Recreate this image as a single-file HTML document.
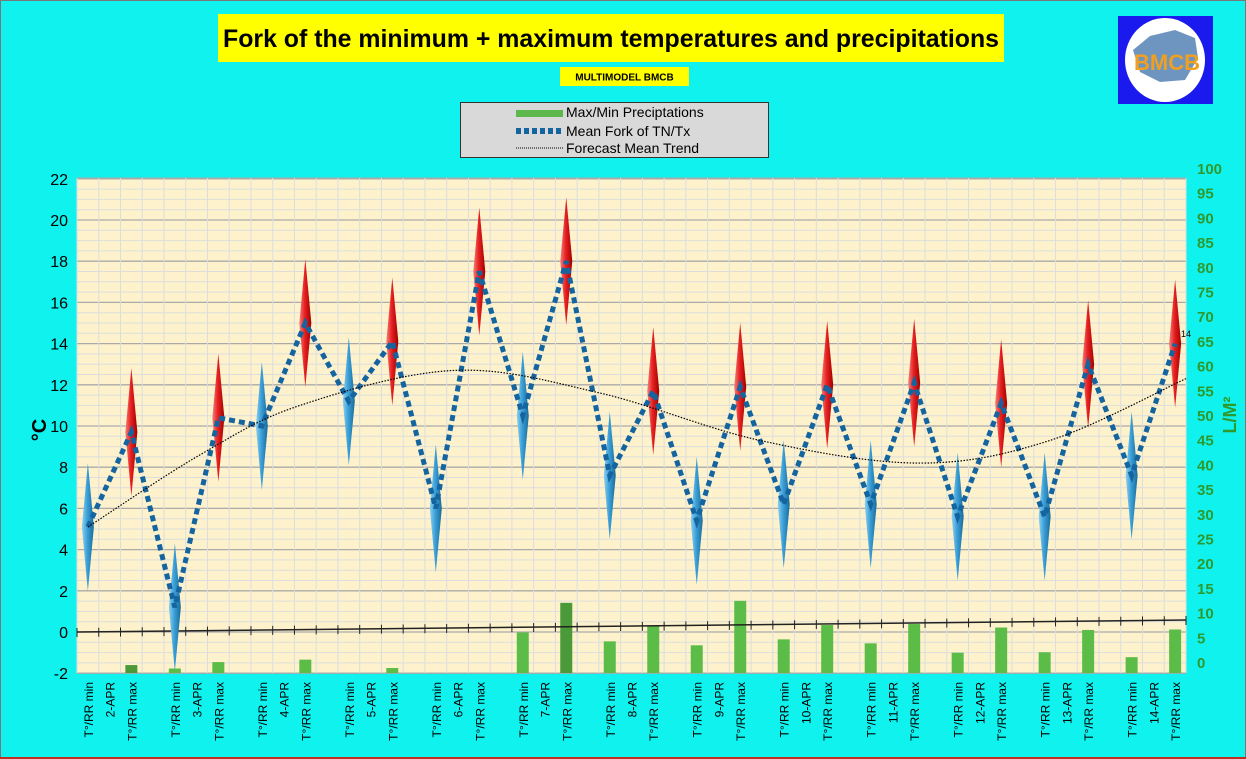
<!DOCTYPE html>
<html><head><meta charset="utf-8"><style>
html,body{margin:0;padding:0;background:#10f2ee;}
body{width:1246px;height:759px;overflow:hidden;position:relative;font-family:"Liberation Sans",sans-serif;}
</style></head><body>
<svg id="s" width="1246" height="759" xmlns="http://www.w3.org/2000/svg" style="position:absolute;left:0;top:0">
<defs>
<linearGradient id="rg" x1="0" x2="1" y1="0" y2="0"><stop offset="0" stop-color="#f08080"/><stop offset="0.45" stop-color="#e82020"/><stop offset="1" stop-color="#a00000"/></linearGradient>
<linearGradient id="bg" x1="0" x2="1" y1="0" y2="0"><stop offset="0" stop-color="#8fd0f0"/><stop offset="0.45" stop-color="#3aa0d8"/><stop offset="1" stop-color="#1a6a9a"/></linearGradient>
</defs>
<rect x="0.5" y="0.5" width="1245" height="758" fill="#10f2ee" stroke="#777" stroke-width="1"/>
<line x1="0" y1="758" x2="1246" y2="758" stroke="#c03020" stroke-width="2"/>
<rect x="218" y="14" width="786" height="48" fill="#ffff00"/>
<text x="611" y="47" text-anchor="middle" font-size="25" font-weight="bold" fill="#000" textLength="776" lengthAdjust="spacingAndGlyphs">Fork of the minimum + maximum temperatures and precipitations</text>
<rect x="560" y="67" width="129" height="19" fill="#ffff00"/>
<text x="624.5" y="80.5" text-anchor="middle" font-size="10" font-weight="bold">MULTIMODEL BMCB</text>
<rect x="460.5" y="102.5" width="308" height="55" fill="#d9d9d9" stroke="#333"/>
<rect x="516" y="110" width="47" height="7" fill="#5cb84a"/>
<text x="566" y="117" font-size="14">Max/Min Preciptations</text>
<line x1="516" y1="131" x2="563" y2="131" stroke="#1464a0" stroke-width="6" stroke-dasharray="5,3"/>
<text x="566" y="136" font-size="14">Mean Fork of TN/Tx</text>
<line x1="516" y1="148" x2="563" y2="148" stroke="#000" stroke-width="1" stroke-dasharray="1,1"/>
<text x="566" y="153" font-size="14">Forecast Mean Trend</text>
<rect x="1118" y="16" width="95" height="88" fill="#1a1aee"/>
<ellipse cx="1165" cy="60" rx="40" ry="42" fill="#fff"/>
<path d="M1133 50 L1150 36 L1175 30 L1195 38 L1198 58 L1185 80 L1160 82 L1140 72 Z" fill="#4a7ab0" opacity="0.8"/>
<text x="1167" y="70" text-anchor="middle" font-size="22" font-weight="bold" fill="#f0a020">BMCB</text>
<g id="plot"></g>
<text transform="translate(46,430) rotate(-90)" text-anchor="middle" font-size="20" font-weight="bold">°C</text>
<text transform="translate(1236,415) rotate(-90)" text-anchor="middle" font-size="18" font-weight="bold" fill="#2e9a2e">L/M²</text>
</svg>
<script>
var g=document.getElementById('plot'),h='';
var X0=77,X1=1186,YT=178,YB=673,sw=(X1-X0)/51;
function ty(v){return 632-v*20.6;}
function ry(v){return 662-v*4.94;}
h+='<rect x="'+X0+'" y="'+YT+'" width="'+(X1-X0)+'" height="'+(YB-YT)+'" fill="#fdf2cc" stroke="#aaa"/>';
for(var v=-2;v<=22;v+=0.5){var y=ty(v);var maj=(v%2==0);h+='<line x1="'+X0+'" x2="'+X1+'" y1="'+y+'" y2="'+y+'" stroke="'+(maj?'#aaa':'#ddd')+'" stroke-width="'+(maj?1.3:1)+'"/>';}
for(var i=0;i<=51;i++){var x=X0+i*sw;h+='<line x1="'+x+'" x2="'+x+'" y1="'+YT+'" y2="'+YB+'" stroke="#ddd"/>';}
for(var v=-2;v<=22;v+=2){h+='<text x="68" y="'+(ty(v)+6)+'" text-anchor="end" font-size="16">'+v+'</text>';}
for(var v=0;v<=100;v+=5){h+='<text x="1197" y="'+(ry(v)+6)+'" font-size="15" font-weight="bold" fill="#2e9a2e">'+v+'</text>';}
var mins=[5.1,1.2,10,11.2,6,10.5,7.6,5.4,6.2,6.2,5.6,5.6,7.6];
var maxs=[9.7,10.4,15,14.1,17.5,18,11.7,11.9,12,12.1,11.1,13,14];
var rmin=[0,0.3,0,0,0,7.6,5.8,5,6.2,5.4,3.5,3.6,2.6];
var rmax=[1,1.6,2.1,0.4,0,13.6,8.9,14,9.1,9.3,8.6,8.1,8.2];
function cx(d,k){return X0+sw*(d*4+k+0.5);}
for(var d=0;d<13;d++){[[0,rmin[d]],[2,rmax[d]]].forEach(function(p){if(p[1]>0){var x=cx(d,p[0]);var top=ry(p[1])+8;var col=(d==0||d==5&&p[0]==2)?'#4a9a3a':'#5cbc48';h+='<rect x="'+(x-6)+'" y="'+top+'" width="12" height="'+(YB-top)+'" fill="'+col+'"/>';}});}
var za=632,zb=620;
h+='<line x1="'+X0+'" y1="'+za+'" x2="'+X1+'" y2="'+zb+'" stroke="#222" stroke-width="1.5"/>';
for(var i=0;i<=51;i++){var x=X0+i*sw;var y=za+(zb-za)*i/51;h+='<line x1="'+x+'" x2="'+x+'" y1="'+(y-4)+'" y2="'+(y+5)+'" stroke="#222"/>';}
// trend via catmull-rom
var P=[[88,5.1],[200,8.6],[300,11.0],[455,12.7],[600,11.6],[760,9.3],[920,8.2],[1050,9.3],[1186,12.3]].map(function(p){return [p[0],ty(p[1])];});
var tp='M'+P[0][0]+' '+P[0][1];
for(var i=0;i<P.length-1;i++){var p0=P[Math.max(0,i-1)],p1=P[i],p2=P[i+1],p3=P[Math.min(P.length-1,i+2)];
tp+='C'+(p1[0]+(p2[0]-p0[0])/6)+' '+(p1[1]+(p2[1]-p0[1])/6)+' '+(p2[0]-(p3[0]-p1[0])/6)+' '+(p2[1]-(p3[1]-p1[1])/6)+' '+p2[0]+' '+p2[1];}
for(var d=0;d<13;d++){var x=cx(d,0),y=ty(mins[d]);h+='<path d="M'+x+' '+(y-64)+'L'+(x+6)+' '+y+'L'+x+' '+(y+64)+'L'+(x-6)+' '+y+'Z" fill="url(#bg)"/>';
x=cx(d,2);y=ty(maxs[d]);h+='<path d="M'+x+' '+(y-64)+'L'+(x+6)+' '+y+'L'+x+' '+(y+64)+'L'+(x-6)+' '+y+'Z" fill="url(#rg)"/>';}
var lp='';for(var d=0;d<13;d++){lp+=(lp?'L':'M')+cx(d,0)+' '+ty(mins[d])+'L'+cx(d,2)+' '+ty(maxs[d]);}
h+='<path d="'+lp+'" fill="none" stroke="#1464a0" stroke-width="5" stroke-dasharray="6,4"/>';
h+='<path d="'+tp+'" fill="none" stroke="#000" stroke-width="1.2" stroke-dasharray="1.5,1.5"/>';
h+='<text x="1181" y="337" font-size="9">14</text>';
for(var d=0;d<13;d++){var labs=[[0,'T°/RR min'],[1,(d+2)+'-APR'],[2,'T°/RR max']];labs.forEach(function(l){var x=cx(d,l[0])+5;h+='<text transform="translate('+x+',682) rotate(-90)" text-anchor="end" font-size="12">'+l[1]+'</text>';});}
g.innerHTML=h;
</script>
</body></html>
